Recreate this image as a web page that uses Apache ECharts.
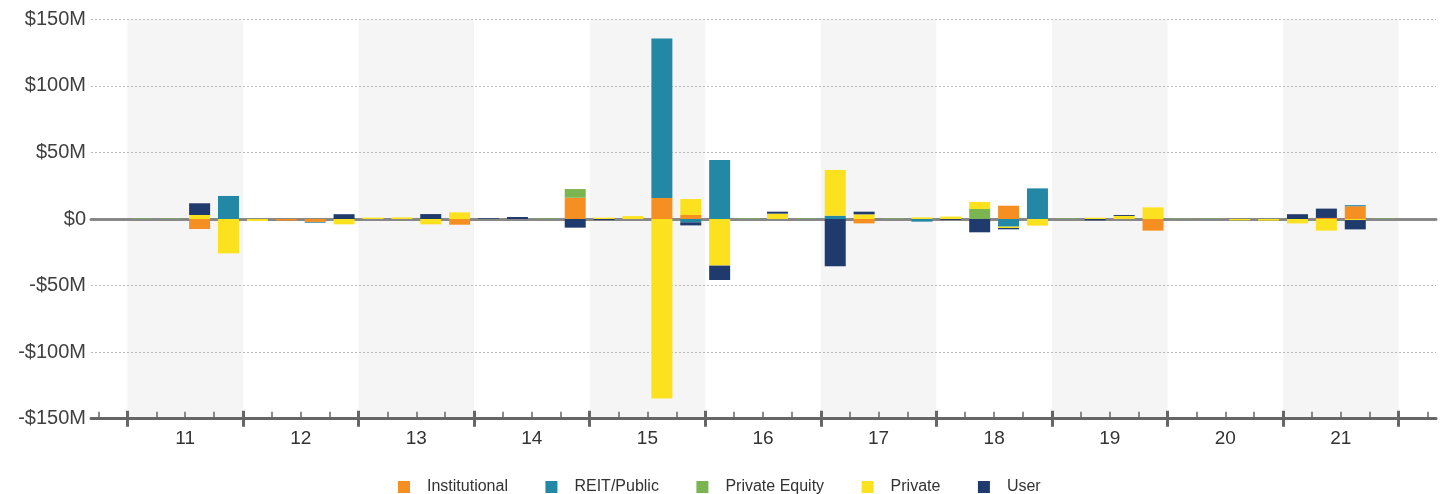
<!DOCTYPE html>
<html>
<head>
<meta charset="utf-8">
<script src="https://cdn.jsdelivr.net/npm/echarts@6/dist/echarts.min.js"></script>
<style>
  html, body { margin: 0; padding: 0; background: #ffffff; }
  #chart { width: 1446px; height: 494px; }
</style>
</head>
<body>
<div id="chart"></div>
<script>
// Fiscal years shown on the axis; each year holds four quarters.
const years = ['11', '12', '13', '14', '15', '16', '17', '18', '19', '20', '21'];
const quarters = ['Q1', 'Q2', 'Q3', 'Q4'];

// Net investment by buyer type, $M per quarter (11 Q1 ... 21 Q4).
const institutional = [
  0, 0, -7.5, 0,     0, -1.2, -2.2, 0,   0, 0, 0, -4.3,   0, 0, 0, 16,
  0, 0, 15.75, 3,    0, 0, 0, 0,         0, -3.3, 0, 0,   0, 0, 10, 0,
  0, 0, 0, -8.75,    0, 0, 0, 0,         0, 0.8, 9.6, 0
];
const reitPublic = [
  0, 0, 0, 17.3,     0, 0, -0.6, 0,      0, 0, 0, 0,      0, 0, 0, 0,
  0, 0, 119.8, -2.5, 44.3, 0, 0, 0,      2.5, 0, 0, -2,   0, 0, -5.75, 23,
  0, 0, 0, 0,        0, 0, 0, 0,         0, 0, 0.8, 0
];
const privateEquity = [
  0.4, 0.4, 0, 0,    0, 0, 0, 0,         0, 0, 0, 0,      0, 0, 0.4, 6.5,
  0, 0, 0, 0,        0, 0.5, 0, 0.4,     0, 0, 0.4, 0,    0, 7.5, 0, 0,
  0.4, 0, 0, 0,      0.3, 0.3, 0, 0,     0, 0, 0, 0.3
];
const privateBuyers = [
  0, 0, 3, -25.8,    -1.5, 0, 0, -4,     1, 1.2, -4, 5,   0, 0, 0, 0,
  1, 2.2, -134.8, 12, -35, 0, 4, 0,      34.3, 3.5, 0, 1.2, 1.8, 5.3, -1, -5,
  0, 1, 2.3, 8.75,   0, 0, -1, -1.2,     -3.3, -8.75, -0.8, 0
];
const user = [
  0, 0, 8.8, 0,      0, 0, 0, 3.6,       0, 0, 3.7, 0,    0.5, 1.5, 0, -6.5,
  -0.8, 0, 0, -2.3,  -10.8, 0, 1.5, 0,   -35.5, 2, 0, 0,  -0.7, -10, -1, 0,
  0, -1, 0.7, 0,     0, 0, 0, 0,         3.6, 7, -7, 0
];

const seriesDefs = [
  { name: 'Institutional', data: institutional, color: '#F58F21' },
  { name: 'REIT/Public', data: reitPublic, color: '#2387A6' },
  { name: 'Private Equity', data: privateEquity, color: '#7AB551' },
  { name: 'Private', data: privateBuyers, color: '#FCE11E' },
  { name: 'User', data: user, color: '#1F3A6D' }
];

// Quarter categories, with one empty slot before the first and after the last year.
const quarterCats = ['start'];
years.forEach(y => quarters.forEach(q => quarterCats.push(y + q)));
quarterCats.push('end');

// Boundary points between quarter slots (one more than the slots).
const boundaries = [];
for (let i = 0; i <= quarterCats.length; i++) boundaries.push('b' + i);

const isYearEdge = i => i % 4 === 1;
const isYearMid = i => i % 4 === 3;

const fontFamily = '"Liberation Sans", Arial, sans-serif';

const chart = echarts.init(document.getElementById('chart'), null, { renderer: 'canvas' });

const gridTop = 19.3;
const gridHeight = 399.4;

const option = {
  animation: false,
  backgroundColor: '#ffffff',
  textStyle: { fontFamily },
  grid: [
    { left: 91, right: 10, top: gridTop, height: gridHeight, containLabel: false, outerBoundsMode: 'none' },
    { left: 98.5, right: 18.5, top: gridTop, height: gridHeight, containLabel: false, outerBoundsMode: 'none' }
  ],
  legend: {
    top: 479,
    left: 398,
    padding: 0,
    icon: 'rect',
    itemWidth: 12,
    itemHeight: 12,
    itemGap: 37.5,
    textStyle: { fontSize: 16, color: '#333', fontFamily, padding: [0, 0, 0, 12] },
    data: seriesDefs.map(s => s.name)
  },
  xAxis: [
    // Bottom frame line of the plot
    {
      gridIndex: 0, type: 'value', min: 0, max: 1, position: 'bottom',
      axisLine: { onZero: false, lineStyle: { color: '#666', width: 3 } },
      axisTick: { show: false }, axisLabel: { show: false }, splitLine: { show: false }
    },
    // Zero baseline
    {
      gridIndex: 0, type: 'value', min: 0, max: 1, position: 'bottom',
      axisLine: { onZero: true, lineStyle: { color: '#888', width: 3 } },
      axisTick: { show: false }, axisLabel: { show: false }, splitLine: { show: false }
    },
    // Quarter slots carrying the bars
    {
      gridIndex: 1, type: 'category', data: quarterCats, boundaryGap: true, position: 'bottom',
      axisLine: { show: false }, axisTick: { show: false }, axisLabel: { show: false },
      splitLine: { show: false }
    },
    // Minor ticks at every quarter boundary and alternating year bands
    {
      gridIndex: 1, type: 'category', data: boundaries, boundaryGap: false, position: 'bottom', z: -1,
      axisLine: { show: false, onZero: false },
      axisTick: { show: true, inside: true, length: 7, interval: 0, lineStyle: { color: '#666', width: 1.5 } },
      axisLabel: { show: false },
      splitLine: { show: false },
      splitArea: {
        show: true,
        interval: (i) => isYearEdge(i),
        areaStyle: { color: ['#f5f5f5', 'rgba(255,255,255,0)'] }
      }
    },
    // Major ticks at year boundaries and the year labels
    {
      gridIndex: 1, type: 'category', data: boundaries, boundaryGap: false, position: 'bottom', offset: -8,
      axisLine: { show: false, onZero: false },
      axisTick: { show: true, length: 16, interval: (i) => isYearEdge(i), lineStyle: { color: '#666', width: 3 } },
      axisLabel: {
        show: true, margin: 19, fontSize: 19, color: '#333', fontFamily,
        interval: (i) => isYearMid(i),
        formatter: (v, i) => (isYearMid(i) ? years[(i - 3) / 4] : '')
      },
      splitLine: { show: false }
    }
  ],
  yAxis: [
    {
      gridIndex: 0, type: 'value', min: -150, max: 150, interval: 50,
      axisLine: { show: false }, axisTick: { show: false },
      axisLabel: {
        margin: 5, fontSize: 20, color: '#404040', fontFamily,
        formatter: v => (v === 0 ? '$0' : (v < 0 ? '-' : '') + '$' + Math.abs(v) + 'M')
      },
      splitLine: { show: true, lineStyle: { color: '#bbb', type: [2, 2], width: 1 } }
    },
    {
      gridIndex: 1, type: 'value', min: -150, max: 150, interval: 50,
      show: false, splitLine: { show: false }
    }
  ],
  series: seriesDefs.map(s => ({
    name: s.name,
    type: 'bar',
    xAxisIndex: 2,
    yAxisIndex: 1,
    stack: 'flows',
    barWidth: 21,
    itemStyle: { color: s.color },
    data: [null].concat(s.data.map(v => (v === 0 ? null : v))).concat([null])
  }))
};

chart.setOption(option);
</script>
</body>
</html>
